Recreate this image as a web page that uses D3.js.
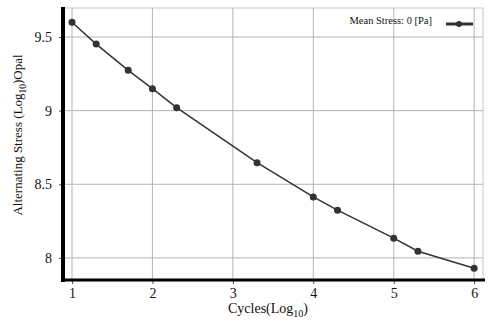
<!DOCTYPE html>
<html>
<head>
<meta charset="utf-8">
<script src="https://cdn.jsdelivr.net/npm/d3@7"></script>
<style>
  body { margin: 0; background: #fff; }
  text { font-family: "Liberation Serif", "DejaVu Serif", serif; fill: #111; }
</style>
</head>
<body>
<div id="chart"></div>
<script>
// S-N curve, log10 cycles vs log10 alternating stress
var cycles = [1, 1.301, 1.699, 2, 2.301, 3.301, 4, 4.301, 5, 5.301, 6];
var stress = [9.60, 9.452, 9.274, 9.149, 9.02, 8.647, 8.414, 8.324, 8.134, 8.045, 7.93];
var xTicks = [1, 2, 3, 4, 5, 6];
var yTicks = [8, 8.5, 9, 9.5];
var seriesName = "Mean Stress: 0 [Pa]";

var W = 500, H = 324;
// plot box (note: "top" is reserved on window, so prefix these)
var pLeft = 63, pRight = 483, pTop = 8, pBottom = 280;

var x = d3.scaleLinear().domain([0.888, 6.11]).range([pLeft, pRight]);
var y = d3.scaleLinear().domain([7.85, 9.697]).range([pBottom, pTop]);

var svg = d3.select("#chart").append("svg")
    .attr("width", W)
    .attr("height", H);

// plot frame (faint)
svg.append("rect")
    .attr("x", pLeft).attr("y", pTop)
    .attr("width", pRight - pLeft).attr("height", pBottom - pTop)
    .attr("fill", "none")
    .attr("stroke", "#c8c8c8")
    .attr("stroke-width", 1);

// grid
var grid = svg.append("g");
grid.selectAll(".vg").data(xTicks).enter().append("line")
    .attr("x1", function (d) { return x(d); })
    .attr("x2", function (d) { return x(d); })
    .attr("y1", pTop).attr("y2", pBottom)
    .attr("stroke", "#b4b4b4").attr("stroke-width", 1);
grid.selectAll(".hg").data(yTicks).enter().append("line")
    .attr("y1", function (d) { return y(d); })
    .attr("y2", function (d) { return y(d); })
    .attr("x1", pLeft).attr("x2", pRight)
    .attr("stroke", "#b4b4b4").attr("stroke-width", 1);

// axes
var xAxis = d3.axisBottom(x).tickValues(xTicks).tickSize(4).tickPadding(4)
    .tickFormat(d3.format("d"));
var yAxis = d3.axisLeft(y).tickValues(yTicks).tickSize(4).tickPadding(7)
    .tickFormat(function (d) { return d % 1 === 0 ? d : d.toFixed(1); });

var gx = svg.append("g").attr("transform", "translate(0," + pBottom + ")").call(xAxis);
var gy = svg.append("g").attr("transform", "translate(" + pLeft + ",0)").call(yAxis);

[gx, gy].forEach(function (g) {
    g.select(".domain").remove();
    g.selectAll(".tick line").attr("stroke", "#555");
    g.selectAll(".tick text")
        .style("font-family", "'Liberation Serif', serif")
        .style("font-size", "14px")
        .attr("fill", "#111");
});

// thick left and bottom axis lines
svg.append("line")
    .attr("x1", pLeft).attr("x2", pLeft)
    .attr("y1", pTop - 1).attr("y2", pBottom + 2)
    .attr("stroke", "#000").attr("stroke-width", 4);
svg.append("line")
    .attr("x1", pLeft - 2).attr("x2", pRight + 2)
    .attr("y1", pBottom).attr("y2", pBottom)
    .attr("stroke", "#000").attr("stroke-width", 3);

// the curve
var pts = cycles.map(function (c, i) { return [c, stress[i]]; });
var line = d3.line()
    .x(function (d) { return x(d[0]); })
    .y(function (d) { return y(d[1]); });

svg.append("path")
    .datum(pts)
    .attr("d", line)
    .attr("fill", "none")
    .attr("stroke", "#333")
    .attr("stroke-width", 1.5);

svg.selectAll(".dot").data(pts).enter().append("circle")
    .attr("cx", function (d) { return x(d[0]); })
    .attr("cy", function (d) { return y(d[1]); })
    .attr("r", 3.5)
    .attr("fill", "#333");

// legend
var lg = svg.append("g");
lg.append("text")
    .attr("x", 432).attr("y", 24)
    .attr("text-anchor", "end")
    .style("font-size", "10.5px")
    .text(seriesName);
lg.append("line")
    .attr("x1", 446).attr("x2", 473)
    .attr("y1", 24).attr("y2", 24)
    .attr("stroke", "#333").attr("stroke-width", 3);
lg.append("circle")
    .attr("cx", 459).attr("cy", 24).attr("r", 3)
    .attr("fill", "#333");

// axis titles
var xt = svg.append("text")
    .attr("x", 268).attr("y", 313)
    .attr("text-anchor", "middle")
    .style("font-size", "14px");
xt.append("tspan").text("Cycles(Log");
xt.append("tspan").attr("dy", 4).style("font-size", "10px").text("10");
xt.append("tspan").attr("dy", -4).text(")");

var yt = svg.append("text")
    .attr("transform", "translate(22,135) rotate(-90)")
    .attr("text-anchor", "middle")
    .style("font-size", "13px");
yt.append("tspan").text("Alternating Stress (Log");
yt.append("tspan").attr("dy", 4).style("font-size", "9.5px").text("10");
yt.append("tspan").attr("dy", -4).text(")Opal");
</script>
</body>
</html>
